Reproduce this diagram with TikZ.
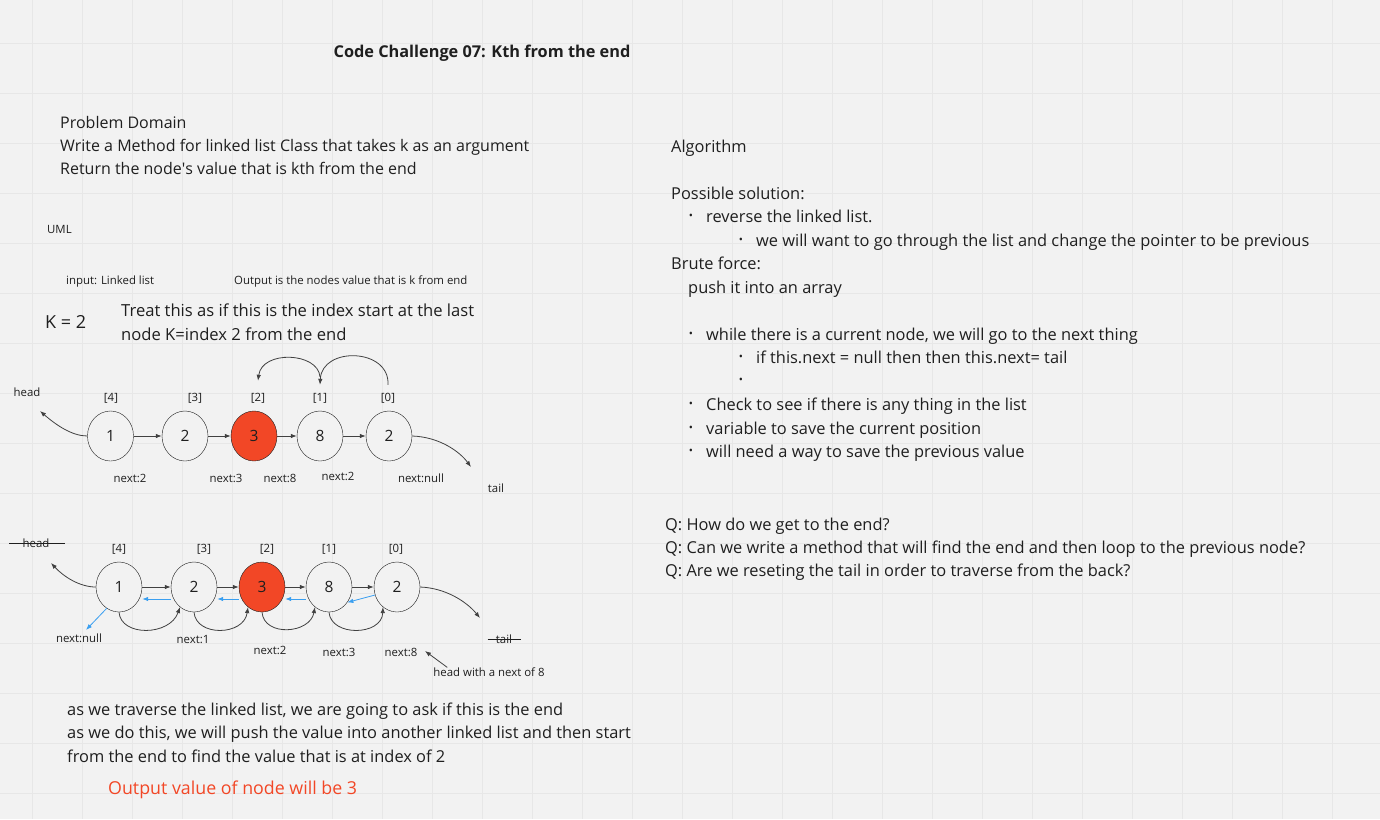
\documentclass[tikz,border=0pt]{standalone}
\usepackage{fontspec}
\setmainfont{Open Sans}
\usetikzlibrary{arrows.meta,positioning,shapes.geometric}
\definecolor{Board}{HTML}{F2F2F2}
\definecolor{GridLine}{HTML}{E7E7E7}
\definecolor{Ink}{HTML}{1F1F1F}
\definecolor{Tomato}{HTML}{F24726}
\definecolor{Sky}{HTML}{3A9FF0}
\tikzset{
  note/.style={anchor=base west, inner sep=0pt, text=Ink, font=\fontsize{16.4}{23.4}\selectfont},
  block/.style={note, anchor=north west, align=left},
  tag/.style={inner sep=0pt, text=Ink, font=\fontsize{11.4}{13}\selectfont},
  dot/.style={inner sep=0pt, text=Ink, font=\fontsize{11}{11}\selectfont},
  listnode/.style={draw=Ink, ellipse, fill=Board, minimum width=46pt, minimum height=50pt, inner sep=0pt, text=Ink, font=\fontsize{15.5}{15.5}\selectfont},
  hotnode/.style={listnode, fill=Tomato},
  link/.style={-{Latex[length=6pt,width=4.5pt]}, draw=Ink!85, line width=0.8pt},
  backlink/.style={-{Latex[length=6pt,width=4.5pt]}, draw=Sky, line width=0.8pt},
  strike/.style={draw=Ink, line width=0.8pt}
}
\begin{document}
\begin{tikzpicture}[x=1pt, y=-1pt]
  % board
  \fill[Board] (0,0) rectangle (1380,819);
  \useasboundingbox (0,0) rectangle (1380,819);
  \foreach \gx in {32,82,...,1332} \draw[GridLine, line width=0.7pt] (\gx,0) -- (\gx,819);
  \foreach \gy in {43,93,...,793} \draw[GridLine, line width=0.7pt] (0,\gy) -- (1380,\gy);

  % title and problem domain
  \node[inner sep=0pt, text=Ink, font=\fontsize{16.3}{16.3}\bfseries] (title) at (482,53) {Code Challenge 07: Kth from the end};
  \node[block, font=\fontsize{16}{23.2}\selectfont] (domain) at (60,116) {Problem Domain\\Write a Method for linked list Class that takes k as an argument\\Return the node\textquotesingle s value that is kth from the end};

  \node[tag, anchor=base west] (uml) at (47,233) {UML};
  \node[tag, anchor=base west] (input) at (66,284) {input: Linked list};
  \node[tag, anchor=base west] (output) at (234,284) {Output is the nodes value that is k from end};
  \node[note, font=\fontsize{18}{18}\selectfont] (kval) at (45,328) {K = 2};
  \node[block, font=\fontsize{16.6}{24}\selectfont] (treat) at (121,304) {Treat this as if this is the index start at the last\\node K=index 2 from the end};

  % first list
  \node[listnode] (n1) at (110.5,436) {1};
  \node[listnode] (n2) at (185,436) {2};
  \node[hotnode] (n3) at (254,436) {3};
  \node[listnode] (n4) at (320,436) {8};
  \node[listnode] (n5) at (389,436) {2};

  \node[tag] (i4) at (111,398) {[4]};
  \node[tag] (i3) at (195,398) {[3]};
  \node[tag] (i2) at (258,398) {[2]};
  \node[tag] (i1) at (320,398) {[1]};
  \node[tag] (i0) at (388,398) {[0]};

  \node[tag] (head1) at (27,392) {head};
  \node[tag] (tail1) at (496,488) {tail};
  \node[tag] (nx1) at (130,478) {next:2};
  \node[tag] (nx2) at (226,478) {next:3};
  \node[tag] (nx3) at (280,478) {next:8};
  \node[tag] (nx4) at (338,476) {next:2};
  \node[tag] (nx5) at (421,478) {next:null};
  \coordinate (h1tip) at (40,411);
  \coordinate (t1tip) at (471,467);

  \draw[link] (n1) -- (n2);
  \draw[link] (n2) -- (n3);
  \draw[link] (n3) -- (n4);
  \draw[link] (n4) -- (n5);
  \draw[link] (n1.west) .. controls (72,436) and (56,425) .. (h1tip);
  \draw[link] (n5.east) .. controls (440,437) and (460,452) .. (t1tip);
  \draw[link] ([yshift=8pt]i0.north) .. controls (390,348) and (322,346) .. ([yshift=8pt]i1.north);
  \draw[link] ([yshift=16pt]i1.north) .. controls (318,352) and (262,350) .. ([yshift=12pt]i2.north);

  % second list
  \node[listnode] (m1) at (119,587) {1};
  \node[listnode] (m2) at (194,587) {2};
  \node[hotnode] (m3) at (262,587) {3};
  \node[listnode] (m4) at (329,587) {8};
  \node[listnode] (m5) at (397,587) {2};

  \node[tag] (j4) at (119,549) {[4]};
  \node[tag] (j3) at (204,549) {[3]};
  \node[tag] (j2) at (267,549) {[2]};
  \node[tag] (j1) at (329,549) {[1]};
  \node[tag] (j0) at (396,549) {[0]};

  \node[tag] (head2) at (36,543) {head};
  \node[tag] (tail2) at (504,639) {tail};
  \node[tag] (mx1) at (79,638) {next:null};
  \node[tag] (mx2) at (193,640) {next:1};
  \node[tag] (mx3) at (270,650) {next:2};
  \node[tag] (mx4) at (339,652) {next:3};
  \node[tag] (mx5) at (401,652) {next:8};
  \node[tag] (newhead) at (489,672) {head with a next of 8};
  \coordinate (h2tip) at (51,563);
  \coordinate (t2tip) at (480,618);
  \coordinate (nulltip) at (86,630);
  \coordinate (ptr) at (425,651);

  \draw[strike] ([xshift=-13pt]head2.west) -- ([xshift=15pt]head2.east);
  \draw[strike] ([xshift=-8pt]tail2.west) -- ([xshift=9pt]tail2.east);

  \draw[link] (m1) -- (m2);
  \draw[link] (m2) -- (m3);
  \draw[link] (m3) -- (m4);
  \draw[link] (m4) -- (m5);
  \draw[link] (m1.west) .. controls (80,587) and (64,577) .. (h2tip);
  \draw[link] (m5.east) .. controls (445,588) and (466,601) .. (t2tip);
  \draw[link] (m1.south) .. controls (121,637) and (170,636) .. (m2.235);
  \draw[link] (m2.south) .. controls (196,637) and (244,636) .. (m3.235);
  \draw[link] (m3.south) .. controls (264,637) and (310,634) .. (m4.235);
  \draw[link] (m4.south) .. controls (331,637) and (382,636) .. (m5.235);
  \draw[backlink] ([yshift=-12pt]m2.west) -- ([yshift=-12pt]m1.east);
  \draw[backlink] ([yshift=-12pt]m3.west) -- ([yshift=-12pt]m2.east);
  \draw[backlink] ([yshift=-12pt]m4.west) -- ([yshift=-12pt]m3.east);
  \draw[backlink] (m5.200) -- (m4.-40);
  \draw[backlink] (m1.240) -- (nulltip);
  \draw[link] ([xshift=14pt]newhead.north west) -- (ptr);

  % notes under the lists
  \node[block] (traverse) at (67,702.5) {as we traverse the linked list, we are going to ask if this is the end\\as we do this, we will push the value into another linked list and then start\\from the end to find the value that is at index of 2};
  \node[note, text=Tomato, font=\fontsize{17.8}{17.8}\selectfont] (answer) at (108,794) {Output value of node will be 3};

  % algorithm column
  \node[note] (algo) at (671,152) {Algorithm};
  \node[note] (possible) at (671,199) {Possible solution:};
  \node[dot] (b1) at (691,217) {•};
  \node[note] (reverse) at (706,222) {reverse the linked list.};
  \node[dot] (b2) at (741,241) {•};
  \node[note] (pointer) at (756,246) {we will want to go through the list and change the pointer to be previous};
  \node[note] (brute) at (671,269) {Brute force:};
  \node[note] (push) at (688,293) {push it into an array};
  \node[dot] (b3) at (691,335) {•};
  \node[note] (while) at (706,340) {while there is a current node, we will go to the next thing};
  \node[dot] (b4) at (741,358) {•};
  \node[note] (ifnext) at (756,363) {if this.next = null then then this.next= tail};
  \node[dot] (b5) at (741,381) {•};
  \node[dot] (b6) at (691,405) {•};
  \node[note] (check) at (706,410) {Check to see if there is any thing in the list};
  \node[dot] (b7) at (691,429) {•};
  \node[note] (variable) at (706,434) {variable to save the current position};
  \node[dot] (b8) at (691,452) {•};
  \node[note] (previous) at (706,457) {will need a way to save the previous value};

  \node[block] (questions) at (665,517.5) {Q: How do we get to the end?\\Q: Can we write a method that will find the end and then loop to the previous node?\\Q: Are we reseting the tail in order to traverse from the back?};
\end{tikzpicture}
\end{document}
